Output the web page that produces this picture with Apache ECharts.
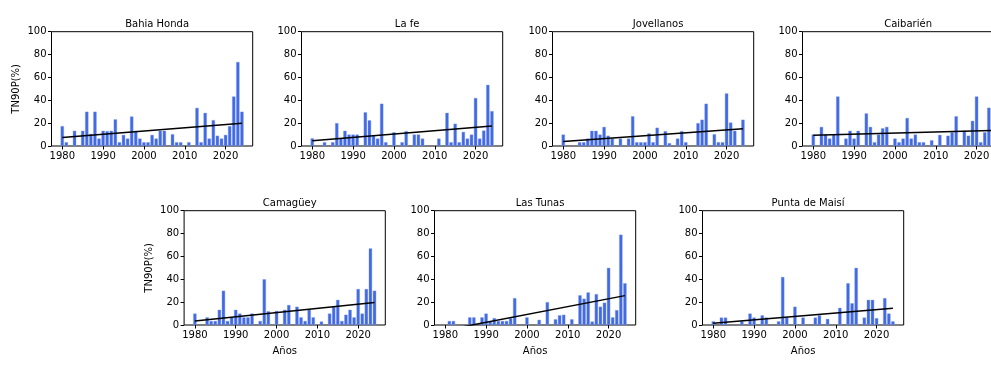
<!DOCTYPE html>
<html>
<head>
<meta charset="utf-8">
<script src="https://cdn.jsdelivr.net/npm/echarts@6/dist/echarts.min.js"></script>
<style>
  html, body { margin: 0; padding: 0; background: #fff; }
  #chart { width: 991px; height: 374px; }
</style>
</head>
<body>
<div id="chart"></div>
<script>
// años 1980-2024
var years = [1980, 1981, 1982, 1983, 1984, 1985, 1986, 1987, 1988, 1989,
             1990, 1991, 1992, 1993, 1994, 1995, 1996, 1997, 1998, 1999,
             2000, 2001, 2002, 2003, 2004, 2005, 2006, 2007, 2008, 2009,
             2010, 2011, 2012, 2013, 2014, 2015, 2016, 2017, 2018, 2019,
             2020, 2021, 2022, 2023, 2024];
var xTicks = [1980, 1990, 2000, 2010, 2020];
var yTicks = [0, 20, 40, 60, 80, 100];

var stations = ['Bahia Honda', 'La fe', 'Jovellanos', 'Caibarién', 'Camagüey', 'Las Tunas', 'Punta de Maisí'];

// TN90P(%) por estación
var bahiaHonda = [17.4, 3.3, null, 13.3, null, 13.3, 30, 10.5, 30, 6.5,
                  13.3, 13, 13.3, 23.3, 3.3, 9.7, 6.5, 25.8, 13.3, 6.5,
                  3.3, 3.3, 9.7, 6.5, 13.3, 13.3, null, 10.3, 3.3, 3.3,
                  null, 3.3, null, 33.3, 3.3, 29, 6.5, 22.6, 9, 6.5,
                  9.7, 17.4, 43.3, 73.5, 30];
var laFe = [6.7, null, null, 3.3, null, 3.3, 20, 6.5, 13.3, 10,
            10, 10, null, 29.5, 22.5, 9, 6.5, 37, 3.3, null,
            12, null, 3.3, 13, null, 10, 10, 6.5, null, null,
            null, 6.5, null, 29, 3.3, 19.5, 3.3, 12.3, 6.5, 10,
            42, 6.5, 13.5, 53.5, 30.5];
var jovellanos = [10, null, null, null, 3.3, 3.3, 6.5, 13.3, 13.3, 10,
                  16.7, 9, 6.5, null, 6.5, null, 6.5, 26, 3.3, 3.3,
                  3.3, 11, 3.3, 16, null, 13, 2.5, null, 6.5, 13,
                  3.3, null, null, 20, 23, 37, null, 10.3, 3.3, 3.3,
                  46, 20.5, 13.3, null, 23];
var caibarien = [10, null, 16.7, 10, 6.5, 10, 43.3, null, 6.5, 13.3,
                 6.5, 13.3, null, 28.5, 16.7, 3.3, 10, 15.5, 16.7, null,
                 6.5, 3.3, 6.5, 24.5, 6.5, 10, 3.3, 3.3, null, 5,
                 null, 9.7, null, 9, 12, 26, null, 13.3, 9, 22,
                 43.3, 3.3, 12, 33.5, 10];
var camaguey = [10, null, null, 6.7, 3.5, 3.5, 13.3, 30, 3.5, 6.7,
                13.3, 10, 6.7, 6.7, 10, null, 3.5, 40, 12, null,
                12.3, null, 13.3, 17.5, null, 16, 6.7, 3.5, 13.3, 6.7,
                null, 3, null, 10, 16, 22, 3.5, 9, 13.3, 6.7,
                31.5, 10, 31.5, 67, 30];
var lasTunas = [null, 3.5, 3.5, null, null, null, 6.7, 6.7, null, 6.7,
                10, 3.5, 6, 3.5, 3.5, 3.5, 6, 23.5, null, null,
                6.7, null, null, 4.5, null, 20, null, 5, 8.5, 9,
                null, 5, null, 26, 23, 28.5, 3, 27, 16, 19.5,
                50, 6.7, 13, 79, 36.5];
var puntaMaisi = [3.2, null, 6.5, 6.5, null, null, null, 3.2, null, 10,
                  6.5, null, 8.5, 6.5, null, null, 3.2, 42, 6.5, null,
                  16, null, 6.5, null, null, 6.5, 8.5, null, 5.3, null,
                  null, 15, null, 36.5, 19, 50, null, 6.5, 22, 22,
                  6, null, 23.5, 10, 3.2];
var seriesValues = [bahiaHonda, laFe, jovellanos, caibarien, camaguey, lasTunas, puntaMaisi];

// tendencia lineal: valor en 1980 y en 2024
var trendYears = [1980, 2024];
var trendStart = [7.4, 4.7, 3.9, 9.4, 3.5, -4.5, 1.5];
var trendEnd = [20, 17.4, 15, 13.5, 19.7, 25.7, 14.6];

// posiciones de los paneles (px)
var panelLeft = [51.5, 301.5, 552.5, 802.5, 184.1, 434.5, 702.5];
var panelTop = [31.7, 31.7, 31.7, 31.7, 210.7, 210.7, 210.7];
var panelW = 201.2;
var panelH = 114.3;

var font = 'DejaVu Sans';
var chart = echarts.init(document.getElementById('chart'), null, { renderer: 'canvas' });

var grids = [], xAxes = [], yAxes = [], series = [], titles = [];

for (var i = 0; i < stations.length; i++) {
    var bottomRow = i >= 4;
    grids.push({
        left: panelLeft[i], top: panelTop[i], width: panelW, height: panelH,
        show: true, borderColor: '#000', borderWidth: 1, backgroundColor: 'transparent',
        containLabel: false, outerBoundsMode: 'none'
    });
    titles.push({
        text: stations[i],
        left: panelLeft[i] + panelW / 2, textAlign: 'center',
        top: panelTop[i] - 17,
        textStyle: { fontFamily: font, fontSize: 10, fontWeight: 'normal', color: '#000' }
    });
    xAxes.push({
        type: 'value', gridIndex: i, min: 1977.36, max: 2026.64,
        splitLine: { show: false },
        axisLine: { show: false },
        axisTick: { show: true, inside: false, length: 3.5, lineStyle: { color: '#000' }, customValues: xTicks },
        axisLabel: {
            customValues: xTicks, margin: 5, color: '#000', fontFamily: font, fontSize: 10,
            formatter: function (v) { return String(v); }
        },
        name: bottomRow ? 'Años' : '', nameLocation: 'middle', nameGap: 21,
        nameTextStyle: { fontFamily: font, fontSize: 10, color: '#000' }
    });
    yAxes.push({
        type: 'value', gridIndex: i, min: 0, max: 100,
        splitLine: { show: false },
        axisLine: { show: false },
        axisTick: { show: true, inside: false, length: 3.5, lineStyle: { color: '#000' }, customValues: yTicks },
        axisLabel: { customValues: yTicks, margin: 5, color: '#000', fontFamily: font, fontSize: 10 },
        name: (i === 0 || i === 4) ? 'TN90P(%)' : '', nameLocation: 'middle', nameGap: 30,
        nameRotate: 90,
        nameTextStyle: { fontFamily: font, fontSize: 10, color: '#000' }
    });
    var vals = seriesValues[i];
    var barData = [];
    for (var j = 0; j < years.length; j++) {
        if (vals[j] !== null) barData.push([years[j], vals[j]]);
    }
    series.push({
        type: 'bar', xAxisIndex: i, yAxisIndex: i,
        data: barData, barWidth: 3.3,
        itemStyle: { color: '#4169E1', borderColor: '#7f9bea', borderWidth: 0.4 },
        silent: true, animation: false
    });
    series.push({
        type: 'line', xAxisIndex: i, yAxisIndex: i,
        data: [[trendYears[0], trendStart[i]], [trendYears[1], trendEnd[i]]],
        symbol: 'none', clip: true,
        lineStyle: { color: '#000', width: 1.5 },
        silent: true, animation: false, z: 3
    });
}

chart.setOption({
    animation: false,
    title: titles,
    grid: grids,
    xAxis: xAxes,
    yAxis: yAxes,
    series: series
});
</script>
</body>
</html>
